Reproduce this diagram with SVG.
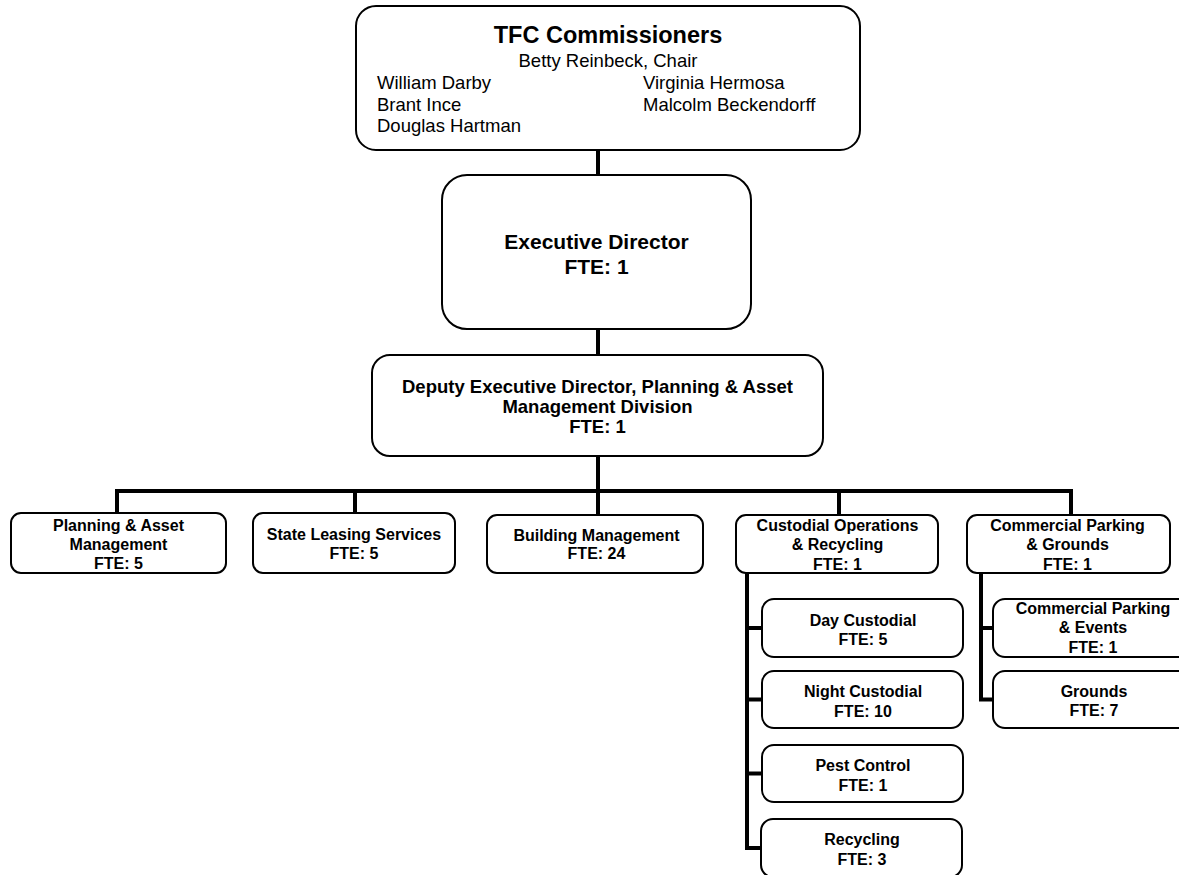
<svg xmlns="http://www.w3.org/2000/svg" width="1179" height="875" viewBox="0 0 1179 875">
  <style>
    .box { fill: #ffffff; stroke: #000000; stroke-width: 2; }
    .conn { fill: none; stroke: #000000; stroke-width: 4; stroke-linejoin: miter; stroke-linecap: butt; }
    text { font-family: "Liberation Sans", Arial, sans-serif; fill: #000000; }
    .title { font-size: 23.5px; font-weight: bold; text-anchor: middle; }
    .name { font-size: 18.5px; }
    .mid { text-anchor: middle; }
    .exec { font-size: 21px; font-weight: bold; text-anchor: middle; }
    .dep { font-size: 18.5px; font-weight: bold; text-anchor: middle; }
    .unit { font-size: 16px; font-weight: bold; text-anchor: middle; }
  </style>

  <!-- reporting lines -->
  <g id="connectors">
    <path class="conn" d="M598 150 V175"/>
    <path class="conn" d="M598 329 V355"/>
    <path class="conn" d="M598 456 V515"/>
    <path class="conn" d="M117 513 V491 H1071 V515"/>
    <path class="conn" d="M355 491 V513"/>
    <path class="conn" d="M839 491 V515"/>
    <path class="conn" d="M747 573 V848 H762"/>
    <path class="conn" d="M747 628 H762 M747 699.5 H762 M747 773.5 H762"/>
    <path class="conn" d="M981 573 V699.5 H993"/>
    <path class="conn" d="M981 628 H993"/>
  </g>

  <g id="commissioners">
    <rect class="box" x="356" y="6" width="504" height="144" rx="20" ry="20"/>
    <text class="title" x="608" y="43">TFC Commissioners</text>
    <text class="name mid" x="608" y="66.5">Betty Reinbeck, Chair</text>
    <text class="name" x="377" y="89">William Darby</text>
    <text class="name" x="377" y="110.5">Brant Ince</text>
    <text class="name" x="377" y="132">Douglas Hartman</text>
    <text class="name" x="643" y="89">Virginia Hermosa</text>
    <text class="name" x="643" y="110.5">Malcolm Beckendorff</text>
  </g>

  <g id="executive-director">
    <rect class="box" x="442" y="175" width="309" height="154" rx="25" ry="25"/>
    <text class="exec" x="596.5" y="248.5">Executive Director</text>
    <text class="exec" x="596.5" y="274">FTE: 1</text>
  </g>

  <g id="deputy-director">
    <rect class="box" x="372" y="355" width="451" height="101" rx="18" ry="18"/>
    <text class="dep" x="597.5" y="393">Deputy Executive Director, Planning &amp; Asset</text>
    <text class="dep" x="597.5" y="413">Management Division</text>
    <text class="dep" x="597.5" y="433">FTE: 1</text>
  </g>

  <g id="planning-asset-management">
    <rect class="box" x="11" y="513" width="215" height="60" rx="10" ry="10"/>
    <text class="unit" x="118.5" y="531">Planning &amp; Asset</text>
    <text class="unit" x="118.5" y="550">Management</text>
    <text class="unit" x="118.5" y="569">FTE: 5</text>
  </g>

  <g id="state-leasing-services">
    <rect class="box" x="253" y="513" width="202" height="60" rx="10" ry="10"/>
    <text class="unit" x="354" y="540">State Leasing Services</text>
    <text class="unit" x="354" y="559">FTE: 5</text>
  </g>

  <g id="building-management">
    <rect class="box" x="487" y="515" width="216" height="58" rx="10" ry="10"/>
    <text class="unit" x="596.5" y="540.5">Building Management</text>
    <text class="unit" x="596.5" y="559">FTE: 24</text>
  </g>

  <g id="custodial-operations">
    <rect class="box" x="736" y="515" width="202" height="58" rx="10" ry="10"/>
    <text class="unit" x="837.5" y="530.5">Custodial Operations</text>
    <text class="unit" x="837.5" y="550">&amp; Recycling</text>
    <text class="unit" x="837.5" y="569.5">FTE: 1</text>
  </g>

  <g id="commercial-parking-grounds">
    <rect class="box" x="967" y="515" width="203" height="58" rx="10" ry="10"/>
    <text class="unit" x="1067.5" y="530.5">Commercial Parking</text>
    <text class="unit" x="1067.5" y="550">&amp; Grounds</text>
    <text class="unit" x="1067.5" y="569.5">FTE: 1</text>
  </g>

  <g id="day-custodial">
    <rect class="box" x="762" y="599" width="201" height="58" rx="12" ry="12"/>
    <text class="unit" x="863" y="625.5">Day Custodial</text>
    <text class="unit" x="863" y="645">FTE: 5</text>
  </g>

  <g id="night-custodial">
    <rect class="box" x="762" y="671" width="201" height="57" rx="12" ry="12"/>
    <text class="unit" x="863" y="697">Night Custodial</text>
    <text class="unit" x="863" y="716.5">FTE: 10</text>
  </g>

  <g id="pest-control">
    <rect class="box" x="762" y="745" width="201" height="57" rx="12" ry="12"/>
    <text class="unit" x="863" y="770.5">Pest Control</text>
    <text class="unit" x="863" y="790.5">FTE: 1</text>
  </g>

  <g id="recycling">
    <rect class="box" x="761" y="819" width="201" height="58" rx="12" ry="12"/>
    <text class="unit" x="862" y="845">Recycling</text>
    <text class="unit" x="862" y="865">FTE: 3</text>
  </g>

  <g id="commercial-parking-events">
    <rect class="box" x="993" y="599" width="200" height="58" rx="12" ry="12"/>
    <text class="unit" x="1093" y="613.5">Commercial Parking</text>
    <text class="unit" x="1093" y="633">&amp; Events</text>
    <text class="unit" x="1093" y="652.5">FTE: 1</text>
  </g>

  <g id="grounds">
    <rect class="box" x="993" y="671" width="200" height="57" rx="12" ry="12"/>
    <text class="unit" x="1094" y="696.5">Grounds</text>
    <text class="unit" x="1094" y="716">FTE: 7</text>
  </g>
</svg>
